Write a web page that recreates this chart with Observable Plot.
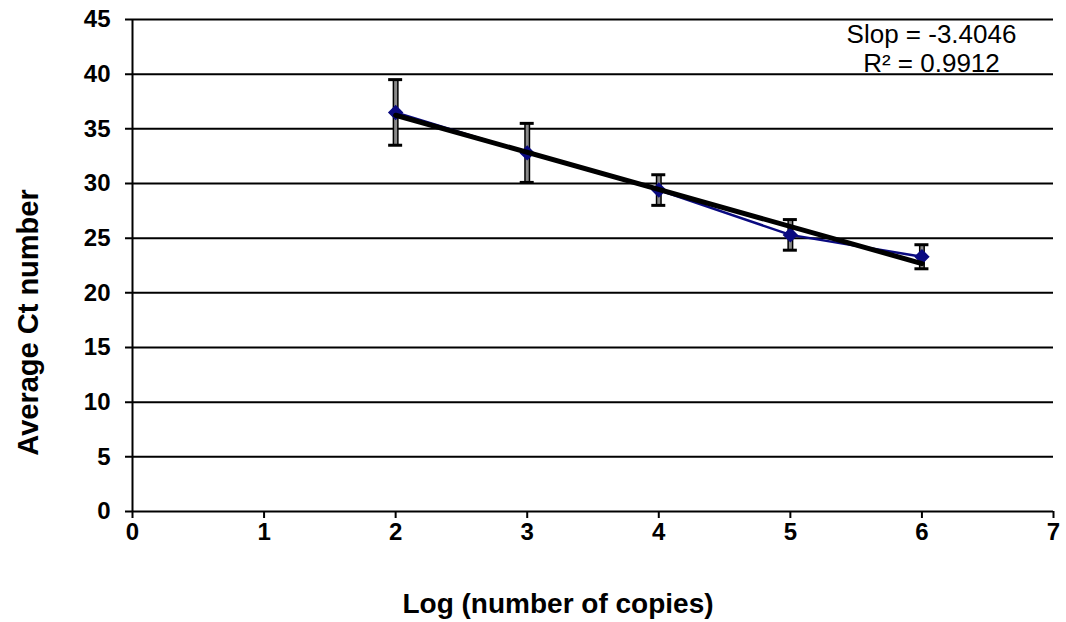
<!DOCTYPE html>
<html>
<head>
<meta charset="utf-8">
<script src="https://cdn.jsdelivr.net/npm/d3@7"></script>
<script src="https://cdn.jsdelivr.net/npm/@observablehq/plot@0.6"></script>
<style>
  html, body { margin: 0; padding: 0; background: #fff; }
  #chart svg { display: block; }
</style>
</head>
<body>
<div id="chart"></div>
<script>
// Data
const logCopies = [2, 3, 4, 5, 6];
const avgCt     = [36.5, 32.8, 29.4, 25.3, 23.3];
const errCt     = [3.0, 2.7, 1.4, 1.4, 1.1];
const xTicks = [0, 1, 2, 3, 4, 5, 6, 7];
const yTicks = [0, 5, 10, 15, 20, 25, 30, 35, 40, 45];
const annotation = ["Slop = -3.4046", "R² = 0.9912"];
const xTitle = "Log (number of copies)";
const yTitle = "Average Ct number";

const data = logCopies.map((x, i) => ({x, y: avgCt[i], lo: avgCt[i] - errCt[i], hi: avgCt[i] + errCt[i]}));

const font = "'Liberation Sans', Arial, sans-serif";

const chart = Plot.plot({
  width: 1066,
  height: 622,
  marginLeft: 132,
  marginRight: 13,
  marginTop: 19,
  marginBottom: 111,
  style: {fontFamily: font, background: "#fff", color: "#000", overflow: "visible"},
  x: {domain: [0, 7], axis: null},
  y: {domain: [0, 45], axis: null},
  marks: [
    // gridlines + y ticks
    Plot.ruleY(yTicks, {y: d => d, stroke: "#000", strokeWidth: 2, insetLeft: -7}),
    // y axis line
    Plot.ruleX([0], {stroke: "#000", strokeWidth: 2}),
    // x ticks
    Plot.ruleX(xTicks, {x: d => d, y1: 0, y2: 0, insetBottom: -7, stroke: "#000", strokeWidth: 2}),
    // tick labels
    Plot.text(yTicks, {y: d => d, frameAnchor: "left", dx: -22, textAnchor: "end", text: d => String(d), fontSize: 24, fontWeight: "bold", fill: "#000"}),
    Plot.text(xTicks, {x: d => d, frameAnchor: "bottom", dy: 28, text: d => String(d), fontSize: 24, fontWeight: "bold", fill: "#000"}),
    // axis titles
    Plot.text([xTitle], {frameAnchor: "bottom", dx: -35, dy: 101, fontSize: 28, fontWeight: "bold", fill: "#000"}),
    Plot.text([yTitle], {frameAnchor: "left", textAnchor: "middle", dx: -104, dy: 57, rotate: -90, fontSize: 29, fontWeight: "bold", fill: "#000"}),
    // error bars
    Plot.ruleX(data, {x: "x", y1: "lo", y2: "hi", stroke: "#000", strokeWidth: 6}),
    Plot.ruleX(data, {x: "x", y1: "lo", y2: "hi", stroke: "#8a8a8a", strokeWidth: 3}),
    Plot.ruleY(data, {y: "hi", x1: "x", x2: "x", insetLeft: -7, insetRight: -7, stroke: "#000", strokeWidth: 3}),
    Plot.ruleY(data, {y: "lo", x1: "x", x2: "x", insetLeft: -7, insetRight: -7, stroke: "#000", strokeWidth: 3}),
    // data series
    Plot.line(data, {x: "x", y: "y", stroke: "#0a0a80", strokeWidth: 2.5}),
    Plot.dot(data, {x: "x", y: "y", symbol: "diamond2", r: 6, fill: "#0a0a80", stroke: "#0a0a80"}),
    // trend line
    Plot.linearRegressionY(data, {x: "x", y: "y", ci: 0, stroke: "#000", strokeWidth: 5, strokeOpacity: 1}),
    // annotation
    Plot.text([annotation.join("\n")], {frameAnchor: "top-right", dx: -122, dy: 4, lineAnchor: "top", lineHeight: 1.08, textAnchor: "middle", fontSize: 26, fill: "#000"})
  ]
});
document.getElementById("chart").appendChild(chart);
</script>
</body>
</html>
